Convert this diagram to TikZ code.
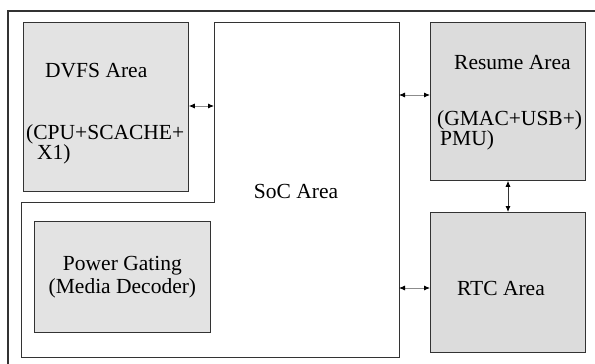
\documentclass[tikz,border=0pt]{standalone}
\usepackage{fontspec}
\setmainfont{Liberation Serif}
\usetikzlibrary{arrows.meta,positioning}

\definecolor{areagray}{HTML}{E3E3E3}
\definecolor{keepgray}{HTML}{DCDCDC}

\tikzset{
    area/.style={draw=black!80, line width=0.8pt, rectangle, inner sep=0pt, anchor=north west},
    lbl/.style={font=\fontsize{21.5}{20}\selectfont, inner sep=0pt},
    link/.style={{Latex[length=6pt,width=5pt,black]}-{Latex[length=6pt,width=5pt,black]}, black!45, line width=0.8pt}
}

\begin{document}
\begin{tikzpicture}[x=1pt, y=-1pt]
    \useasboundingbox (0,0) rectangle (595,364);

    % Outer frame
    \draw[black!80, line width=1.4pt] (8,366) -- (8,11) -- (597,11);

    % SoC Area (stepped outline)
    \draw[black!80, line width=0.8pt] (214,22) -- (399,22) -- (399,357) -- (21,357)
        -- (21,202) -- (214,202) -- cycle;
    \node[lbl] (soc) at (296,191) {SoC Area};
    \coordinate (socTop) at (399,95);
    \coordinate (socBot) at (399,288);
    \coordinate (socLeft) at (214,106);

    % DVFS Area
    \node[area, fill=areagray, minimum width=165pt, minimum height=169pt] (dvfs) at (23,22) {};
    \node[lbl, anchor=base west] (dvfsT) at (45,77) {DVFS Area};
    \node[lbl, anchor=base west] (dvfsA) at (26,139) {(CPU+SCACHE+};
    \node[lbl, anchor=base west] (dvfsB) at (37,159) {X1)};

    % Power Gating
    \node[area, fill=areagray, minimum width=176pt, minimum height=111pt] (pg) at (34,221) {};
    \node[lbl, align=center] (pgT) at (pg.center) {Power Gating\\[3pt](Media Decoder)};

    % Resume Area
    \node[area, fill=keepgray, minimum width=155pt, minimum height=158pt] (res) at (430,22) {};
    \node[lbl, anchor=base west] (resT) at (454,69) {Resume Area};
    \node[lbl, anchor=base west] (resA) at (437,125) {(GMAC+USB+)};
    \node[lbl, anchor=base west] (resB) at (440,145) {PMU)};

    % RTC Area
    \node[area, fill=keepgray, minimum width=155pt, minimum height=140pt] (rtc) at (430,212) {};
    \node[lbl] (rtcT) at (501,288) {RTC Area};

    % Links
    \draw[link] (dvfs.east |- socLeft) -- (socLeft);
    \draw[link] (socTop) -- (res.west |- socTop);
    \draw[link] (socBot) -- (rtc.west |- socBot);
    \draw[link, black!80] (res.south -| 508,0) -- (rtc.north -| 508,0);
\end{tikzpicture}
\end{document}
